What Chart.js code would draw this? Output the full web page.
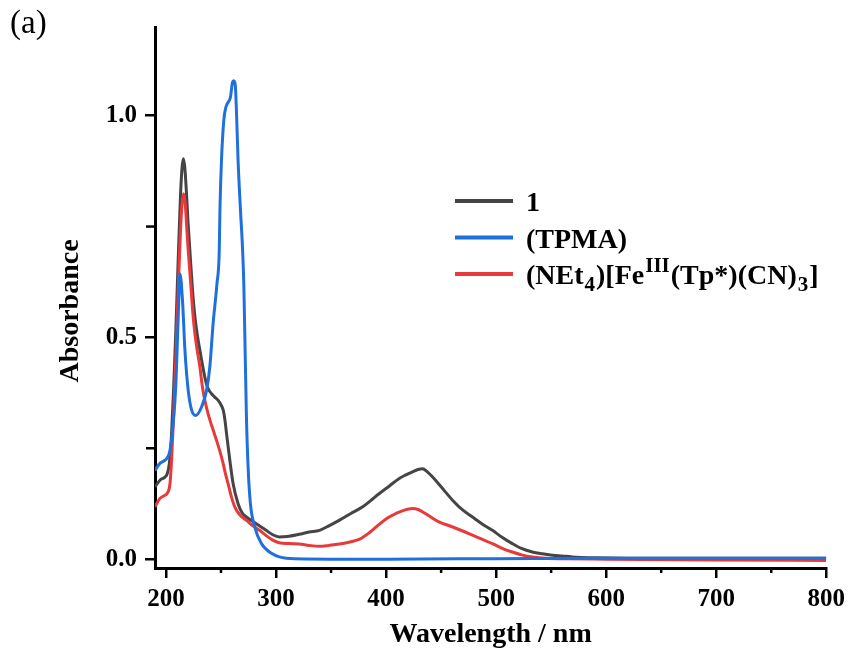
<!DOCTYPE html>
<html><head><meta charset="utf-8">
<script src="https://cdn.jsdelivr.net/npm/chart.js@4.4.1/dist/chart.umd.min.js"></script>
<style>html,body{margin:0;padding:0;background:#fff}#wrap{width:852px;height:651px;position:relative}</style>
</head><body><div id="wrap"><canvas id="c" width="852" height="651"></canvas></div>
<script>
// ---------- data ----------
const seriesNames = ['1', '(TPMA)', '(NEt_{4})[Fe^{III}(Tp*)(CN)_{3}]'];
const xTickValues = [200, 300, 400, 500, 600, 700, 800];
const xMinorTickValues = [250, 350, 450, 550, 650, 750];
const yTickValues = [0.0, 0.5, 1.0];
const yMinorTickValues = [0.25, 0.75];
const panelLabel = '(a)';
const xAxisTitle = 'Wavelength / nm';
const yAxisTitle = 'Absorbance';

// series "1"
const wl1 = [190,194.5,199,201,203,205,207,209,211,213,214.5,215.7,217,218.5,220,221.7,224,226.3,228.5,230.8,233,235.3,238,241.4,244,247.4,250,252,253.5,255,258,261,265.5,269,273,282,291,297,303,310,321,330,339.5,348,357.7,368,378.8,386,393.9,403,412,418,424,429,433.2,437,442.3,450,460.4,469,478.5,487,496.6,505,514.7,523,532.9,542,551,560,569,590,620,700,800];
const abs1 = [0.163,0.178,0.185,0.192,0.215,0.28,0.39,0.52,0.67,0.81,0.88,0.903,0.885,0.83,0.76,0.696,0.61,0.546,0.505,0.471,0.44,0.41,0.386,0.373,0.366,0.358,0.348,0.336,0.315,0.283,0.223,0.17,0.125,0.105,0.095,0.08,0.065,0.055,0.05,0.051,0.056,0.061,0.065,0.075,0.088,0.103,0.118,0.132,0.148,0.165,0.182,0.19,0.197,0.202,0.204,0.198,0.185,0.163,0.133,0.112,0.095,0.08,0.065,0.05,0.035,0.024,0.016,0.012,0.009,0.007,0.005,0.003,0.002,0.002,0.002];

// series "(TPMA)"
const wlTPMA = [190,194.5,199,201,203.6,206.6,209,211.1,212.7,215,217.2,220.2,223.3,227,232.3,236.8,239.8,242.8,246.3,248.4,249,250.4,252.5,254.4,256.4,258.5,260.4,261.6,263,264,265.5,267.7,269.5,270.7,271.9,273.1,274.6,276.7,280.6,286.7,295.8,309.4,350,400,500,600,700,800];
const absTPMA = [0.20,0.216,0.223,0.228,0.245,0.306,0.396,0.546,0.643,0.583,0.471,0.38,0.336,0.324,0.343,0.38,0.433,0.531,0.621,0.696,0.786,0.899,0.989,1.019,1.03,1.041,1.075,1.079,1.068,1.011,0.899,0.786,0.703,0.621,0.471,0.32,0.208,0.125,0.073,0.035,0.013,0.002,0.0,0.0,0.001,0.002,0.002,0.002];

// series "(NEt4)[FeIII(Tp*)(CN)3]"
const wlFe = [190,194.5,199,201,203.6,205,207,209,211,213,214.5,216,217.5,219,220.2,222.5,224.7,227.5,230.8,233,235.3,237.5,240,243,245.9,249,251.9,254,256.4,259.5,262.5,267,273,279,285,291,297,303,312,321,330,339.5,348,357.7,366,376,385,394,402,409,416,424,429,433,440,448,460,469,478.5,487,496.6,505,514.7,524,533,545,560,600,700,800];
const absFe = [0.118,0.137,0.144,0.148,0.17,0.22,0.33,0.46,0.60,0.73,0.80,0.824,0.80,0.74,0.696,0.62,0.546,0.485,0.433,0.39,0.358,0.335,0.313,0.29,0.268,0.243,0.216,0.193,0.17,0.14,0.118,0.1,0.088,0.075,0.065,0.053,0.043,0.037,0.035,0.034,0.031,0.029,0.031,0.034,0.038,0.045,0.06,0.079,0.094,0.103,0.11,0.114,0.112,0.107,0.096,0.084,0.073,0.064,0.054,0.045,0.035,0.025,0.016,0.009,0.005,0.002,0.001,0.0,-0.002,-0.003];

// ---------- styles ----------
const seriesColors = ['#454545', '#1f6fdc', '#e8393b'];
const drawOrder = [2, 0, 1]; // lower = on top
const serif = '"Liberation Serif", "Times New Roman", Times, serif';

function zip(xs, ys) { return xs.map((x, i) => ({x: x, y: ys[i]})); }
const seriesData = [zip(wl1, abs1), zip(wlTPMA, absTPMA), zip(wlFe, absFe)];

function drawRich(ctx, text, x, y, size) {
  const re = /_\{([^}]*)\}|\^\{([^}]*)\}|([^_^]+)/g;
  let m, cx = x;
  const small = Math.round(size * 0.75);
  while ((m = re.exec(text)) !== null) {
    if (m[1] !== undefined) {
      ctx.font = 'bold ' + small + 'px ' + serif;
      ctx.fillText(m[1], cx + 1, y + size * 0.3);
      cx += ctx.measureText(m[1]).width + 2;
    } else if (m[2] !== undefined) {
      ctx.font = 'bold ' + small + 'px ' + serif;
      ctx.fillText(m[2], cx + 1, y - size * 0.36);
      cx += ctx.measureText(m[2]).width + 2;
    } else {
      ctx.font = 'bold ' + size + 'px ' + serif;
      ctx.fillText(m[3], cx, y);
      cx += ctx.measureText(m[3]).width;
    }
  }
}

const extras = {
  id: 'extras',
  afterDraw(chart) {
    const {ctx, scales: {x, y}} = chart;
    ctx.save();
    // minor ticks
    ctx.strokeStyle = '#000';
    ctx.lineWidth = 2.5;
    xMinorTickValues.forEach(v => {
      const px = x.getPixelForValue(v);
      ctx.beginPath(); ctx.moveTo(px, x.top); ctx.lineTo(px, x.top + 5); ctx.stroke();
    });
    yMinorTickValues.forEach(v => {
      const py = y.getPixelForValue(v);
      ctx.beginPath(); ctx.moveTo(y.right, py); ctx.lineTo(y.right - 9, py); ctx.stroke();
    });
    // y axis title
    ctx.fillStyle = '#000';
    ctx.save();
    ctx.translate(71, 311);
    ctx.rotate(-Math.PI / 2);
    ctx.textAlign = 'center';
    ctx.textBaseline = 'middle';
    ctx.font = 'bold 28px ' + serif;
    ctx.fillText(yAxisTitle, 0, 0);
    ctx.restore();
    // panel label
    ctx.textAlign = 'left';
    ctx.textBaseline = 'middle';
    ctx.font = '33px ' + serif;
    ctx.fillText(panelLabel, 10, 24);
    // legend
    const lx0 = 455, lx1 = 513, tx = 526, ly0 = 201, dy = 36.5;
    chart.data.datasets.forEach((ds, i) => {
      const ly = ly0 + dy * i;
      ctx.strokeStyle = ds.borderColor;
      ctx.lineWidth = 4;
      ctx.beginPath(); ctx.moveTo(lx0, ly); ctx.lineTo(lx1, ly); ctx.stroke();
      ctx.fillStyle = '#000';
      ctx.textBaseline = 'middle';
      drawRich(ctx, ds.label, tx, ly + 3, 28);
    });
    ctx.restore();
  }
};

new Chart(document.getElementById('c'), {
  type: 'line',
  data: {
    datasets: seriesNames.map((name, i) => ({
      label: name,
      data: seriesData[i],
      borderColor: seriesColors[i],
      backgroundColor: seriesColors[i],
      borderWidth: 3,
      pointRadius: 0,
      fill: false,
      cubicInterpolationMode: 'monotone',
      order: drawOrder[i]
    }))
  },
  options: {
    responsive: false,
    devicePixelRatio: 1,
    animation: false,
    layout: {padding: {left: 0, top: 27, right: 24, bottom: 0}},
    plugins: {legend: {display: false}, tooltip: {enabled: false}},
    scales: {
      x: {
        type: 'linear', min: 190, max: 800,
        afterBuildTicks: s => { s.ticks = xTickValues.map(v => ({value: v})); },
        afterFit: s => { s.height = 83; },
        grid: {display: true, drawOnChartArea: false, drawTicks: true, tickLength: 10, color: '#000', lineWidth: 2.5},
        border: {display: true, color: '#000', width: 3},
        ticks: {color: '#000', padding: 7, maxRotation: 0, font: {family: serif, size: 25, weight: 'bold'}, callback: v => String(v)},
        title: {display: true, text: xAxisTitle, color: '#000', padding: {top: 0, bottom: -1}, font: {family: serif, size: 28, weight: 'bold'}}
      },
      y: {
        type: 'linear', min: -0.02, max: 1.2,
        afterBuildTicks: s => { s.ticks = yTickValues.map(v => ({value: v})); },
        afterFit: s => { s.width = 155; },
        grid: {display: true, drawOnChartArea: false, drawTicks: true, tickLength: 10, color: '#000', lineWidth: 2.5},
        border: {display: true, color: '#000', width: 3},
        ticks: {color: '#000', padding: 8, font: {family: serif, size: 25, weight: 'bold'}, callback: v => Number(v).toFixed(1)}
      }
    }
  },
  plugins: [extras]
});
</script>
</body></html>
